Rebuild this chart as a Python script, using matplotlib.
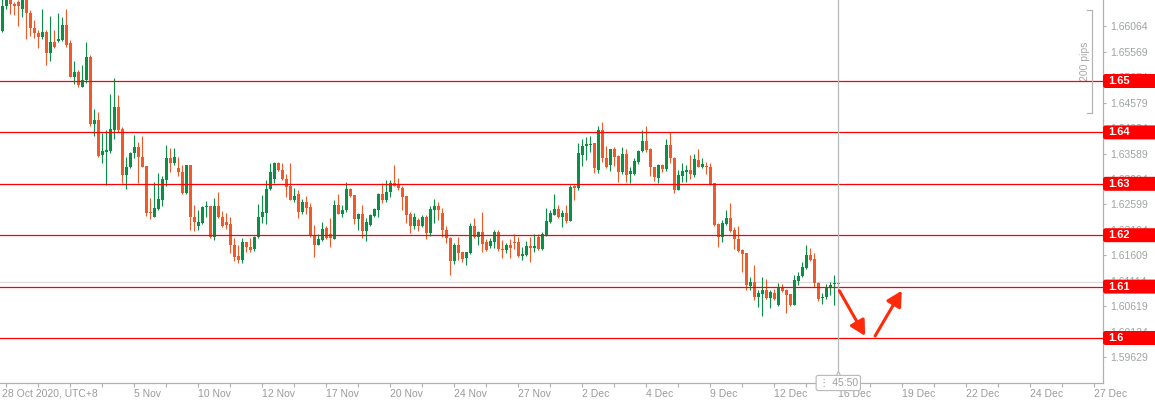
#!/usr/bin/env python

import matplotlib
matplotlib.use('Agg')
import matplotlib.pyplot as plt
from matplotlib.patches import FancyBboxPatch
from matplotlib.transforms import blended_transform_factory


########
# Data #
########

# 4H candles, 28 Oct 2020 -> 16 Dec 2020
opens = [
    1.6598, 1.6646, 1.6661, 1.6650, 1.6654, 1.6640, 1.6659, 1.6633, 1.6604, 1.6594,
    1.6586, 1.6596, 1.6555, 1.6575, 1.6577, 1.6580, 1.6609, 1.6573, 1.6508, 1.6518,
    1.6489, 1.6501, 1.6547, 1.6416, 1.6424, 1.6356, 1.6361, 1.6364, 1.6405, 1.6449,
    1.6406, 1.6317, 1.6333, 1.6359, 1.6372,
    1.6353, 1.6335, 1.6246, 1.6236, 1.6251, 1.6269, 1.6308, 1.6350, 1.6341, 1.6330,
    1.6322, 1.6282, 1.6337, 1.6235, 1.6218, 1.6223, 1.6254, 1.6257, 1.6196, 1.6257,
    1.6236, 1.6225, 1.6222, 1.6181, 1.6160, 1.6152, 1.6186, 1.6178, 1.6173, 1.6196,
    1.6235, 1.6244, 1.6290, 1.6309, 1.6341,
    1.6327, 1.6310, 1.6295, 1.6268, 1.6280, 1.6245, 1.6265, 1.6254, 1.6200, 1.6181,
    1.6190, 1.6214, 1.6202, 1.6192, 1.6259, 1.6242, 1.6249, 1.6289, 1.6278, 1.6231,
    1.6242, 1.6208, 1.6220, 1.6237, 1.6249, 1.6280, 1.6268, 1.6285, 1.6302, 1.6298,
    1.6291, 1.6276, 1.6241, 1.6217, 1.6230,
    1.6218, 1.6236, 1.6205, 1.6249, 1.6256, 1.6244, 1.6211, 1.6194, 1.6149, 1.6181,
    1.6168, 1.6156, 1.6165, 1.6218, 1.6197, 1.6207, 1.6186, 1.6179, 1.6187, 1.6207,
    1.6174, 1.6171, 1.6181, 1.6187, 1.6187, 1.6160, 1.6162, 1.6179, 1.6175, 1.6196,
    1.6173, 1.6200, 1.6226, 1.6240, 1.6250,
    1.6236, 1.6243, 1.6228, 1.6296, 1.6292, 1.6356, 1.6374, 1.6376, 1.6379, 1.6327,
    1.6404, 1.6350, 1.6337, 1.6367, 1.6354, 1.6322, 1.6358, 1.6319, 1.6320, 1.6343,
    1.6364, 1.6384, 1.6367, 1.6332, 1.6311, 1.6337, 1.6328, 1.6376, 1.6350, 1.6288,
    1.6315, 1.6322, 1.6327, 1.6317, 1.6346,
    1.6333, 1.6335, 1.6333, 1.6301, 1.6222, 1.6197, 1.6222, 1.6233, 1.6210, 1.6192,
    1.6171, 1.6165, 1.6101, 1.6109, 1.6079, 1.6085, 1.6094, 1.6077, 1.6088, 1.6064,
    1.6100, 1.6093, 1.6085, 1.6064, 1.6111, 1.6120, 1.6137, 1.6161, 1.6153, 1.6107,
    1.6077, 1.6079, 1.6100, 1.6105, 1.6107,
]

highs = [
    1.6665, 1.6664, 1.6664, 1.6654, 1.6657, 1.6663, 1.6663, 1.6638, 1.6619, 1.6600,
    1.6641, 1.6600, 1.6626, 1.6599, 1.6633, 1.6625, 1.6641, 1.6580, 1.6538, 1.6521,
    1.6531, 1.6575, 1.6551, 1.6445, 1.6440, 1.6398, 1.6405, 1.6474, 1.6505, 1.6473,
    1.6410, 1.6353, 1.6362, 1.6395, 1.6382,
    1.6393, 1.6335, 1.6272, 1.6304, 1.6321, 1.6316, 1.6376, 1.6369, 1.6369, 1.6352,
    1.6337, 1.6337, 1.6337, 1.6259, 1.6250, 1.6257, 1.6266, 1.6257, 1.6272, 1.6285,
    1.6248, 1.6244, 1.6235, 1.6194, 1.6181, 1.6194, 1.6187, 1.6194, 1.6199, 1.6261,
    1.6278, 1.6307, 1.6340, 1.6343, 1.6343,
    1.6340, 1.6320, 1.6340, 1.6291, 1.6288, 1.6271, 1.6276, 1.6263, 1.6220, 1.6203,
    1.6226, 1.6218, 1.6233, 1.6268, 1.6281, 1.6259, 1.6304, 1.6291, 1.6278, 1.6244,
    1.6259, 1.6234, 1.6242, 1.6252, 1.6283, 1.6302, 1.6308, 1.6307, 1.6336, 1.6312,
    1.6296, 1.6276, 1.6246, 1.6243, 1.6233,
    1.6239, 1.6239, 1.6257, 1.6270, 1.6265, 1.6252, 1.6218, 1.6197, 1.6184, 1.6197,
    1.6168, 1.6168, 1.6223, 1.6233, 1.6209, 1.6246, 1.6192, 1.6194, 1.6211, 1.6211,
    1.6191, 1.6184, 1.6192, 1.6202, 1.6197, 1.6178, 1.6189, 1.6197, 1.6202, 1.6202,
    1.6207, 1.6252, 1.6250, 1.6280, 1.6259,
    1.6249, 1.6259, 1.6297, 1.6298, 1.6379, 1.6387, 1.6392, 1.6393, 1.6380, 1.6413,
    1.6421, 1.6374, 1.6367, 1.6372, 1.6356, 1.6372, 1.6367, 1.6333, 1.6351, 1.6366,
    1.6405, 1.6413, 1.6369, 1.6333, 1.6339, 1.6339, 1.6388, 1.6400, 1.6353, 1.6327,
    1.6340, 1.6337, 1.6356, 1.6358, 1.6367,
    1.6350, 1.6343, 1.6341, 1.6302, 1.6223, 1.6229, 1.6249, 1.6262, 1.6215, 1.6218,
    1.6174, 1.6166, 1.6119, 1.6142, 1.6093, 1.6119, 1.6114, 1.6093, 1.6096, 1.6107,
    1.6105, 1.6095, 1.6085, 1.6122, 1.6129, 1.6148, 1.6181, 1.6176, 1.6165, 1.6109,
    1.6087, 1.6105, 1.6108, 1.6122, 1.6108,
]

lows = [
    1.6595, 1.6641, 1.6630, 1.6628, 1.6607, 1.6625, 1.6581, 1.6588, 1.6583, 1.6564,
    1.6581, 1.6531, 1.6538, 1.6564, 1.6575, 1.6577, 1.6567, 1.6507, 1.6495, 1.6488,
    1.6488, 1.6497, 1.6412, 1.6393, 1.6353, 1.6340, 1.6298, 1.6359, 1.6387, 1.6401,
    1.6301, 1.6290, 1.6330, 1.6350, 1.6302,
    1.6332, 1.6238, 1.6231, 1.6235, 1.6249, 1.6256, 1.6295, 1.6322, 1.6337, 1.6315,
    1.6280, 1.6280, 1.6210, 1.6209, 1.6210, 1.6222, 1.6235, 1.6194, 1.6191, 1.6233,
    1.6216, 1.6212, 1.6166, 1.6149, 1.6145, 1.6145, 1.6168, 1.6168, 1.6170, 1.6194,
    1.6223, 1.6222, 1.6287, 1.6301, 1.6324,
    1.6308, 1.6275, 1.6268, 1.6265, 1.6234, 1.6241, 1.6241, 1.6196, 1.6158, 1.6180,
    1.6189, 1.6192, 1.6177, 1.6192, 1.6241, 1.6235, 1.6246, 1.6275, 1.6222, 1.6211,
    1.6194, 1.6189, 1.6217, 1.6236, 1.6236, 1.6262, 1.6265, 1.6275, 1.6296, 1.6287,
    1.6249, 1.6224, 1.6205, 1.6213, 1.6209,
    1.6215, 1.6192, 1.6199, 1.6223, 1.6230, 1.6197, 1.6184, 1.6123, 1.6144, 1.6152,
    1.6148, 1.6142, 1.6163, 1.6194, 1.6181, 1.6168, 1.6170, 1.6175, 1.6175, 1.6170,
    1.6155, 1.6165, 1.6155, 1.6173, 1.6158, 1.6151, 1.6160, 1.6147, 1.6168, 1.6171,
    1.6171, 1.6198, 1.6223, 1.6239, 1.6234,
    1.6216, 1.6223, 1.6228, 1.6269, 1.6288, 1.6334, 1.6347, 1.6361, 1.6321, 1.6321,
    1.6343, 1.6330, 1.6324, 1.6335, 1.6304, 1.6320, 1.6304, 1.6302, 1.6317, 1.6339,
    1.6362, 1.6362, 1.6315, 1.6306, 1.6302, 1.6322, 1.6324, 1.6340, 1.6282, 1.6287,
    1.6304, 1.6304, 1.6309, 1.6314, 1.6332,
    1.6330, 1.6320, 1.6298, 1.6218, 1.6177, 1.6187, 1.6220, 1.6207, 1.6174, 1.6168,
    1.6129, 1.6093, 1.6093, 1.6074, 1.6061, 1.6043, 1.6075, 1.6059, 1.6074, 1.6062,
    1.6090, 1.6048, 1.6062, 1.6064, 1.6103, 1.6119, 1.6135, 1.6149, 1.6100, 1.6072,
    1.6067, 1.6075, 1.6084, 1.6064, 1.6105,
]

closes = [
    1.6646, 1.6661, 1.6650, 1.6645, 1.6645, 1.6659, 1.6632, 1.6604, 1.6593, 1.6586,
    1.6596, 1.6554, 1.6575, 1.6566, 1.6581, 1.6609, 1.6570, 1.6508, 1.6518, 1.6492,
    1.6502, 1.6547, 1.6416, 1.6424, 1.6354, 1.6363, 1.6366, 1.6406, 1.6449, 1.6405,
    1.6317, 1.6333, 1.6359, 1.6371, 1.6353,
    1.6333, 1.6244, 1.6243, 1.6252, 1.6271, 1.6309, 1.6350, 1.6341, 1.6352, 1.6322,
    1.6282, 1.6337, 1.6235, 1.6226, 1.6226, 1.6254, 1.6257, 1.6196, 1.6257, 1.6235,
    1.6217, 1.6220, 1.6181, 1.6158, 1.6152, 1.6186, 1.6178, 1.6171, 1.6196, 1.6236,
    1.6246, 1.6290, 1.6322, 1.6340, 1.6326,
    1.6310, 1.6294, 1.6268, 1.6276, 1.6245, 1.6265, 1.6252, 1.6198, 1.6181, 1.6192,
    1.6213, 1.6194, 1.6194, 1.6259, 1.6242, 1.6249, 1.6289, 1.6276, 1.6231, 1.6242,
    1.6208, 1.6226, 1.6239, 1.6250, 1.6280, 1.6268, 1.6285, 1.6301, 1.6296, 1.6291,
    1.6275, 1.6239, 1.6217, 1.6235, 1.6218,
    1.6236, 1.6205, 1.6250, 1.6256, 1.6249, 1.6211, 1.6194, 1.6149, 1.6181, 1.6166,
    1.6153, 1.6168, 1.6218, 1.6197, 1.6207, 1.6183, 1.6171, 1.6189, 1.6207, 1.6173,
    1.6171, 1.6181, 1.6176, 1.6185, 1.6160, 1.6163, 1.6179, 1.6175, 1.6179, 1.6173,
    1.6202, 1.6228, 1.6243, 1.6250, 1.6236,
    1.6243, 1.6228, 1.6294, 1.6292, 1.6360, 1.6374, 1.6378, 1.6377, 1.6331, 1.6404,
    1.6350, 1.6333, 1.6367, 1.6353, 1.6322, 1.6358, 1.6317, 1.6324, 1.6345, 1.6364,
    1.6384, 1.6366, 1.6332, 1.6314, 1.6337, 1.6328, 1.6376, 1.6350, 1.6288, 1.6318,
    1.6324, 1.6327, 1.6319, 1.6348, 1.6333,
    1.6339, 1.6333, 1.6300, 1.6220, 1.6197, 1.6224, 1.6233, 1.6209, 1.6192, 1.6170,
    1.6163, 1.6103, 1.6109, 1.6079, 1.6087, 1.6094, 1.6077, 1.6090, 1.6075, 1.6100,
    1.6092, 1.6083, 1.6064, 1.6113, 1.6120, 1.6139, 1.6161, 1.6152, 1.6107, 1.6075,
    1.6080, 1.6100, 1.6103, 1.6106, 1.6106,
]

levels = [1.65, 1.64, 1.63, 1.62, 1.61, 1.60]
level_labels = ['1.65', '1.64', '1.63', '1.62', '1.61', '1.6']

price_ticks = [1.66064, 1.65569, 1.65074, 1.64579, 1.64084, 1.63589, 1.63094,
               1.62599, 1.62104, 1.61609, 1.61114, 1.60619, 1.60124, 1.59629]

date_labels = ['28 Oct 2020, UTC+8', '5 Nov', '10 Nov', '12 Nov', '17 Nov',
               '20 Nov', '24 Nov', '27 Nov', '2 Dec', '4 Dec', '9 Dec',
               '12 Dec', '16 Dec', '19 Dec', '22 Dec', '24 Dec', '27 Dec']

countdown = '45:50'

# forecast arrows: (candle offset from last candle, price)
forecast_down = [(0.25, 1.6092), (6.7, 1.6004)]
forecast_up = [(9.2, 1.6004), (15.85, 1.6092)]

pips_top, pips_span = 1.6638, 0.0200


##########
# Colors #
##########

UP = '#0b8f46'
DOWN = '#f05a28'
LEVEL = '#ff0000'
GRAY = '#a9a9a9'
ARROW = '#ff2a0a'


def draw_candles(ax):
    x = list(range(len(opens)))
    colors = [UP if c >= o else DOWN for o, c in zip(opens, closes)]
    bottoms = [min(o, c) for o, c in zip(opens, closes)]
    heights = [max(abs(c - o), 0.00018) for o, c in zip(opens, closes)]

    ax.vlines(x, lows, highs, colors=colors, lw=0.8, zorder=2)
    ax.bar(x, heights, width=0.75, bottom=bottoms, color=colors,
           linewidth=0, zorder=3)


def main():
    plt.rcParams['font.family'] = ['Liberation Sans', 'DejaVu Sans']

    W, H = 1155, 400
    px_per_price = 5140.0
    fig = plt.figure(figsize=(W / 100, H / 100), dpi=100)
    ax = fig.add_axes([0, 17 / H, 1103 / W, 383 / H])

    ax.set_xlim(-0.575, 275.175)
    ax.set_ylim(1.65 - 302 / px_per_price, 1.65 + 81 / px_per_price)

    draw_candles(ax)
    last = len(opens) - 1

    # support / resistance levels
    for lvl in levels:
        ax.axhline(lvl, color=LEVEL, lw=0.9, zorder=4)

    # current price + current time
    ax.axhline(closes[-1] + 0.0002, color='#dcdcdc', lw=0.9, zorder=1)
    ax.axvline(last, color='#b8b8b8', lw=0.9, zorder=5)

    # forecast arrows
    for (x0, y0), (x1, y1) in (forecast_down, forecast_up):
        ax.annotate('', xy=(last + x1, y1), xytext=(last + x0, y0),
                    arrowprops=dict(
                        arrowstyle='-|>,head_length=0.5,head_width=0.27',
                        color=ARROW, lw=2.2, mutation_scale=18,
                        shrinkA=0, shrinkB=0),
                    zorder=6)

    # 200 pips ruler
    bx0, bx1 = 271.2, 272.35
    ax.plot([bx0, bx1, bx1, bx0], [pips_top, pips_top,
            pips_top - pips_span, pips_top - pips_span],
            color='#b5b5b5', lw=0.9, zorder=5)
    ax.text(270.6, pips_top - pips_span / 2, '200 pips', rotation=90,
            ha='center', va='center', fontsize=7.5, color=GRAY)

    # axes styling
    for side in ('top', 'left'):
        ax.spines[side].set_visible(False)
    for side in ('bottom', 'right'):
        ax.spines[side].set_color('#b0b0b0')
        ax.spines[side].set_linewidth(0.9)

    ax.yaxis.tick_right()
    ax.set_yticks(price_ticks)
    ax.set_yticklabels(['%.5f' % p for p in price_ticks])
    ax.tick_params(axis='y', length=2.5, width=0.8, color='#b0b0b0',
                   labelcolor='#9ea3a3', labelsize=7.5, pad=3)

    date_pos = [0] + list(range(33, 276, 16))
    ax.xaxis.remove_overlapping_locs = False
    ax.set_xticks(date_pos)
    ax.set_xticklabels(date_labels, ha='left')
    ax.set_xticks(list(range(1, 276, 8)), minor=True)
    ax.tick_params(axis='x', which='major', length=0, pad=4,
                   labelsize=7.5, labelcolor='#9b9b9b')
    ax.tick_params(axis='x', which='minor', length=3, width=0.8,
                   color='#b0b0b0')

    # countdown box on the time axis
    trans = blended_transform_factory(ax.transData, ax.transAxes)
    ax.plot([last], [0.022], marker='^', ms=6, mfc='white', mec='#b8b8b8',
            mew=0.8, transform=trans, clip_on=False, zorder=9)
    ax.text(last, 0.0, '\u22ee ' + countdown, transform=trans,
            ha='center', va='center', fontsize=7.5, color='#a0a0a0',
            clip_on=False, zorder=10,
            bbox=dict(boxstyle='round,pad=0.25,rounding_size=0.2',
                      fc='white', ec='#b8b8b8', lw=0.8))

    # red price tags over the right axis
    rax = fig.add_axes([1103 / W, 17 / H, 52 / W, 383 / H])
    rax.set_xlim(0, 52)
    rax.set_ylim(ax.get_ylim())
    rax.axis('off')
    tag_h = 14 / px_per_price
    for lvl, lab in zip(levels, level_labels):
        rax.add_patch(FancyBboxPatch(
            (0, lvl - tag_h / 2), 60, tag_h,
            boxstyle='round,pad=0,rounding_size=2.5',
            mutation_aspect=1 / px_per_price,
            fc=LEVEL, ec='none', clip_on=False))
        rax.text(5, lvl, lab, ha='left', va='center', color='white',
                 fontsize=8, fontweight='bold')

    fig.savefig('out.png', dpi=100, facecolor='white')


if __name__ == '__main__':
    main()
